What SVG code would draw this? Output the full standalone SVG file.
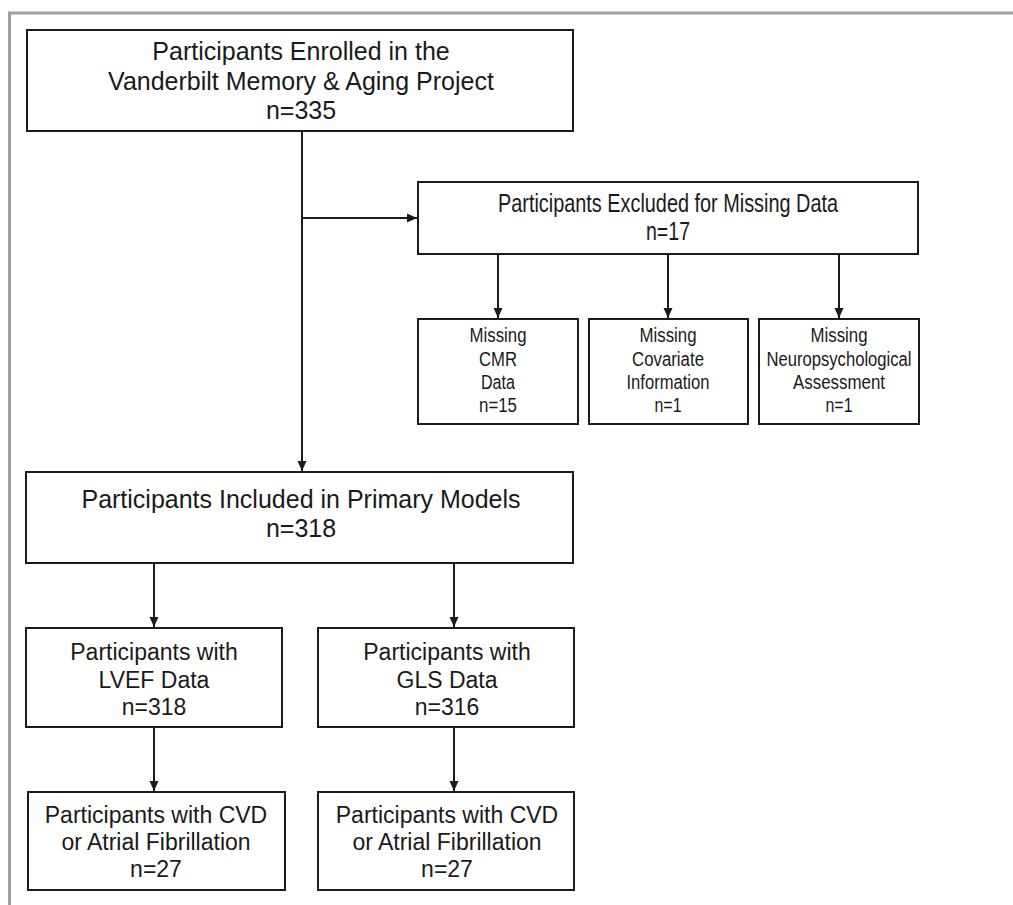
<svg xmlns="http://www.w3.org/2000/svg" width="1013" height="905" viewBox="0 0 1013 905">
<style>
.box{fill:#fff;stroke:#1a1a1a;stroke-width:2}
.t{font-family:"Liberation Sans",Arial,sans-serif;fill:#1a1a1a;text-anchor:middle}
.big{font-size:25px}
.mid{font-size:23px}
.sm{font-size:20px}
.c{stroke:#1a1a1a;stroke-width:2;fill:none;marker-end:url(#ah)}
</style>
<defs>
<marker id="ah" markerUnits="userSpaceOnUse" markerWidth="12" markerHeight="12" viewBox="0 0 12 12" refX="11" refY="6" orient="auto">
<path d="M1,1.5 L11,6 L1,10.5 Z" fill="#1a1a1a"/>
</marker>
</defs>
<rect x="0" y="0" width="1013" height="905" fill="#fff"/>
<g id="frame" stroke="#a0a0a0" stroke-width="3" fill="none">
<line x1="8" y1="13" x2="1013" y2="13"/>
<line x1="9.5" y1="12" x2="9.5" y2="905"/>
</g>
<g id="connectors">
<line class="c" x1="302" y1="131" x2="302" y2="471"/>
<line class="c" x1="302" y1="218" x2="417" y2="218"/>
<line class="c" x1="498" y1="254" x2="498" y2="318"/>
<line class="c" x1="668" y1="254" x2="668" y2="318"/>
<line class="c" x1="839" y1="254" x2="839" y2="318"/>
<line class="c" x1="154" y1="563" x2="154" y2="627"/>
<line class="c" x1="454" y1="563" x2="454" y2="627"/>
<line class="c" x1="154" y1="727" x2="154" y2="791"/>
<line class="c" x1="454" y1="727" x2="454" y2="791"/>
</g>
<g id="enrolled">
<rect class="box" x="27" y="30" width="546" height="101"/>
<text class="t big" x="301" y="60">Participants Enrolled in the</text>
<text class="t big" x="301" y="90">Vanderbilt Memory &amp; Aging Project</text>
<text class="t big" x="301" y="119">n=335</text>
</g>
<g id="excluded">
<rect class="box" x="418" y="182" width="500" height="72"/>
<text class="t big" x="668" y="212" textLength="340" lengthAdjust="spacingAndGlyphs">Participants Excluded for Missing Data</text>
<text class="t big" x="668" y="240" textLength="44" lengthAdjust="spacingAndGlyphs">n=17</text>
</g>
<g id="missing-cmr">
<rect class="box" x="418" y="319" width="160" height="105"/>
<text class="t sm" x="498" y="342" textLength="57" lengthAdjust="spacingAndGlyphs">Missing</text>
<text class="t sm" x="498" y="365.5" textLength="38" lengthAdjust="spacingAndGlyphs">CMR</text>
<text class="t sm" x="498" y="389" textLength="34" lengthAdjust="spacingAndGlyphs">Data</text>
<text class="t sm" x="498" y="412" textLength="38" lengthAdjust="spacingAndGlyphs">n=15</text>
</g>
<g id="missing-covariate">
<rect class="box" x="589" y="319" width="159" height="105"/>
<text class="t sm" x="668" y="342" textLength="57" lengthAdjust="spacingAndGlyphs">Missing</text>
<text class="t sm" x="668" y="365.5" textLength="72" lengthAdjust="spacingAndGlyphs">Covariate</text>
<text class="t sm" x="668" y="389" textLength="83" lengthAdjust="spacingAndGlyphs">Information</text>
<text class="t sm" x="668" y="412" textLength="27" lengthAdjust="spacingAndGlyphs">n=1</text>
</g>
<g id="missing-neuro">
<rect class="box" x="759" y="319" width="160" height="105"/>
<text class="t sm" x="839" y="342" textLength="57" lengthAdjust="spacingAndGlyphs">Missing</text>
<text class="t sm" x="839" y="365.5" textLength="145" lengthAdjust="spacingAndGlyphs">Neuropsychological</text>
<text class="t sm" x="839" y="389" textLength="92" lengthAdjust="spacingAndGlyphs">Assessment</text>
<text class="t sm" x="839" y="412" textLength="27" lengthAdjust="spacingAndGlyphs">n=1</text>
</g>
<g id="included">
<rect class="box" x="26" y="472" width="547" height="91"/>
<text class="t big" x="301" y="508">Participants Included in Primary Models</text>
<text class="t big" x="301" y="537">n=318</text>
</g>
<g id="lvef">
<rect class="box" x="26" y="628" width="256" height="99"/>
<text class="t mid" x="154" y="660">Participants with</text>
<text class="t mid" x="154" y="688">LVEF Data</text>
<text class="t mid" x="154" y="715">n=318</text>
</g>
<g id="gls">
<rect class="box" x="318" y="628" width="256" height="99"/>
<text class="t mid" x="447" y="660">Participants with</text>
<text class="t mid" x="447" y="688">GLS Data</text>
<text class="t mid" x="447" y="715">n=316</text>
</g>
<g id="cvd-lvef">
<rect class="box" x="28" y="792" width="257" height="98"/>
<text class="t mid" x="156" y="823">Participants with CVD</text>
<text class="t mid" x="156" y="850">or Atrial Fibrillation</text>
<text class="t mid" x="156" y="877">n=27</text>
</g>
<g id="cvd-gls">
<rect class="box" x="318" y="792" width="256" height="98"/>
<text class="t mid" x="447" y="823">Participants with CVD</text>
<text class="t mid" x="447" y="850">or Atrial Fibrillation</text>
<text class="t mid" x="447" y="877">n=27</text>
</g>
</svg>
